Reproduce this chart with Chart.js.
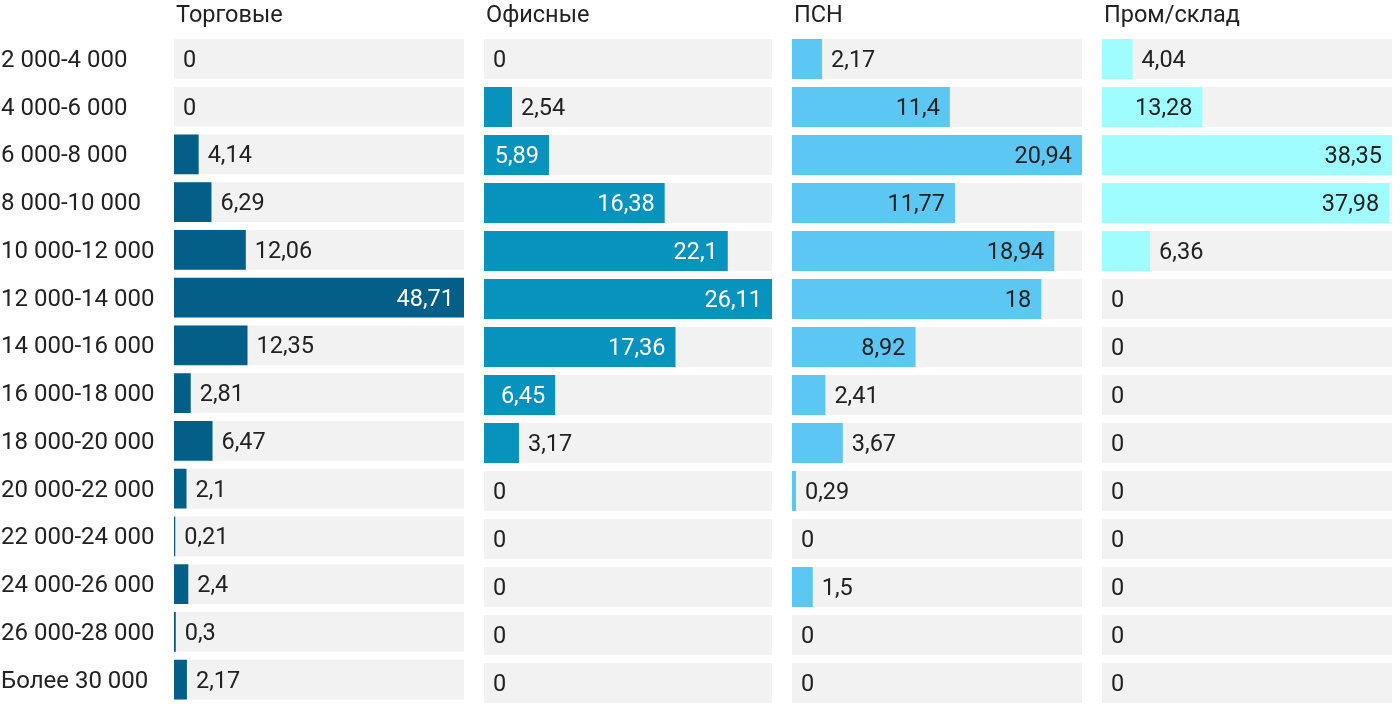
<!DOCTYPE html>
<html>
<head>
<meta charset="utf-8">
<script src="https://cdn.jsdelivr.net/npm/chart.js@4/dist/chart.umd.min.js"></script>
<style>
  html, body { margin: 0; padding: 0; background: #fff; }
  .panel { position: absolute; top: 0; height: 718px; }
</style>
</head>
<body>
<div class="panel" style="left:0;width:464px"><canvas id="c0"></canvas></div>
<div class="panel" style="left:484px;width:288px"><canvas id="c1"></canvas></div>
<div class="panel" style="left:792px;width:290px"><canvas id="c2"></canvas></div>
<div class="panel" style="left:1102px;width:290px"><canvas id="c3"></canvas></div>
<script>
var categories = ['2 000-4 000', '4 000-6 000', '6 000-8 000', '8 000-10 000', '10 000-12 000',
  '12 000-14 000', '14 000-16 000', '16 000-18 000', '18 000-20 000', '20 000-22 000',
  '22 000-24 000', '24 000-26 000', '26 000-28 000', 'Более 30 000'];
var panelTitles = ['Торговые', 'Офисные', 'ПСН', 'Пром/склад'];
var retail = [0, 0, 4.14, 6.29, 12.06, 48.71, 12.35, 2.81, 6.47, 2.1, 0.21, 2.4, 0.3, 2.17];
var office = [0, 2.54, 5.89, 16.38, 22.1, 26.11, 17.36, 6.45, 3.17, 0, 0, 0, 0, 0];
var psn = [2.17, 11.4, 20.94, 11.77, 18.94, 18, 8.92, 2.41, 3.67, 0.29, 0, 1.5, 0, 0];
var industrial = [4.04, 13.28, 38.35, 37.98, 6.36, 0, 0, 0, 0, 0, 0, 0, 0, 0];

(function() {
  'use strict';

  var FONT = 'Roboto, sans-serif';
  var TEXT = '#222222';
  var series = [retail, office, psn, industrial];
  var colors = ['#035f87', '#0893bf', '#5cc7f2', '#9ffcff'];
  var insideText = ['#ffffff', '#ffffff', TEXT, TEXT];

  function fmt(v) {
    return String(v).replace('.', ',');
  }

  // value labels: inside the bar if it fits, otherwise right after it
  var labelPlugin = {
    id: 'barLabels',
    afterDatasetsDraw: function(chart) {
      var ctx = chart.ctx;
      var meta = chart.getDatasetMeta(0);
      var idx = chart.options.plugins.barLabels.index;
      ctx.save();
      ctx.font = '23.5px ' + FONT;
      ctx.textBaseline = 'middle';
      meta.data.forEach(function(bar, i) {
        var v = chart.data.datasets[0].data[i];
        var txt = fmt(v);
        var w = bar.x - bar.base;
        var tw = ctx.measureText(txt).width;
        if (w - tw >= 18) {
          ctx.textAlign = 'right';
          ctx.fillStyle = insideText[idx];
          ctx.fillText(txt, bar.x - 10, bar.y + 2);
        } else {
          ctx.textAlign = 'left';
          ctx.fillStyle = TEXT;
          ctx.fillText(txt, bar.x + 9, bar.y + 2);
        }
      });
      // panel title
      ctx.textAlign = 'left';
      ctx.textBaseline = 'alphabetic';
      ctx.fillStyle = TEXT;
      ctx.fillText(panelTitles[idx], chart.chartArea.left + 2, 22);
      ctx.restore();
    }
  };

  series.forEach(function(data, idx) {
    var max = Math.max.apply(null, data);
    var bg = data.map(function() { return max; });
    new Chart(document.getElementById('c' + idx), {
      type: 'bar',
      data: {
        labels: categories,
        datasets: [{
          data: data,
          backgroundColor: colors[idx],
          grouped: false,
          order: 0,
          barPercentage: 1,
          categoryPercentage: 40 / 48
        }, {
          data: bg,
          backgroundColor: '#f2f2f2',
          grouped: false,
          order: 1,
          barPercentage: 1,
          categoryPercentage: 40 / 48
        }]
      },
      options: {
        indexAxis: 'y',
        responsive: true,
        maintainAspectRatio: false,
        animation: false,
        events: [],
        layout: { padding: { top: 35, bottom: 11, left: idx === 0 ? 1 : 0, right: 0 } },
        scales: {
          x: { display: false, min: 0, max: max },
          y: {
            display: idx === 0,
            grid: { display: false },
            border: { display: false },
            afterFit: function(axis) { axis.width = idx === 0 ? 173 : 0; },
            ticks: {
              crossAlign: 'far',
              padding: 0,
              labelOffset: 2,
              color: TEXT,
              font: { family: FONT, size: 24 }
            }
          }
        },
        plugins: {
          legend: { display: false },
          tooltip: { enabled: false },
          barLabels: { index: idx }
        }
      },
      plugins: [labelPlugin]
    });
  });
}());
</script>
</body>
</html>
